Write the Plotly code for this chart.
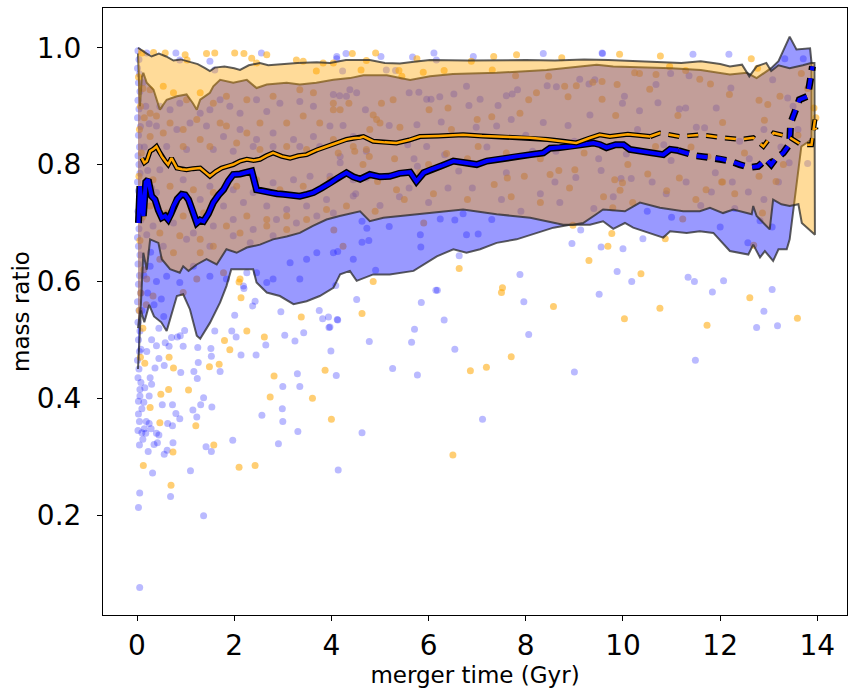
import plotly.graph_objects as go

# ---------------- scatter samples: (merger time [Gyr], mass ratio) ----------------
blue_x = [
    0.055, 0.03, 0.055, 0.69, 1.37, 0.32, 1.10, 1.97, 1.42, 1.53, 2.91, 3.31, 3.00, 4.63, 4.14,
    0.05, 0.12, 0.23, 0.35, 0.42, 0.56, 0.62, 0.74, 0.10, 0.18, 0.15, 0.29, 0.40, 0.45, 0.19, 0.25, 0.63, 0.73,
    2.01, 2.20, 2.38, 2.43, 1.95, 2.04, 2.14, 2.45, 2.65, 2.96, 3.04, 3.25, 3.43, 3.75, 3.82, 3.94, 4.13, 3.95,
    3.99, 4.10, 3.30, 3.00, 2.99, 3.35, 2.57,
    0.73, 0.80, 0.88, 0.52, 1.37, 1.31, 1.15, 1.23, 1.54, 0.90, 1.17, 1.24, 1.71, 1.26, 0.95, 1.25, 0.83, 0.98,
    0.71, 0.89, 0.58, 0.66, 0.45, 0.56, 0.37, 0.27, 0.16, 0.08, 0.06, 0.03, 0.10, 0.14, 0.25, 0.30, 1.52, 1.53,
    1.60, 0.08,
    7.88, 6.15, 6.18, 5.85, 6.32, 5.71, 5.65, 6.54, 5.26, 5.77, 7.96, 8.06, 9.00, 7.11, 9.88, 10.18, 9.51,
    11.34, 11.47, 11.84, 12.07, 11.49, 13.07, 12.90, 12.75, 13.18,
    9.55, 10.00, 10.41, 12.00, 12.57, 12.82, 13.07,
    4.63, 4.73, 4.77, 4.63, 4.13, 5.19, 5.83, 5.84, 6.24, 6.54, 6.71, 6.78, 7.02, 7.30, 4.91, 4.09, 4.52, 4.12,
    3.97, 4.78, 8.95, 9.13, 6.63,
    4.30, 4.11, 5.02, 5.67, 6.11, 6.16, 6.92, 8.36, 9.58, 4.23, 5.13, 5.32, 4.17, 4.38, 4.70, 5.60, 5.80, 5.96,
    6.05, 6.23, 6.52, 6.78, 7.06, 7.43, 7.60, 7.72, 6.83, 7.83, 8.44, 8.63, 9.11, 9.30, 9.42, 9.32, 8.87, 8.36,
    7.70, 7.40, 6.98, 4.24, 4.45, 5.19, 5.76, 6.26, 5.57, 5.96, 5.70, 5.77, 6.33, 6.62, 7.60, 8.14, 8.62, 9.03,
    9.50, 9.55, 4.45, 4.72, 5.60, 4.72,
    9.57, 11.44, 12.18, 13.33, 13.71, 10.03, 9.99, 10.68, 10.98, 11.36, 12.22, 13.08, 13.39, 10.72, 11.16,
    11.29, 11.92, 10.34, 11.51, 11.68, 10.84, 10.07, 10.99, 11.90, 12.25, 12.58, 13.42, 13.80, 10.17, 9.96,
    10.89, 11.82,
    4.5, 5.0, 5.4, 6.0, 6.9, 7.5, 7.9, 8.3, 8.7, 9.4, 9.8, 10.5, 11.0, 11.6, 12.3, 12.9, 13.2, 12.4, 12.9,
    13.25, 10.3, 8.0, 9.0, 7.2, 6.4, 8.6, 10.6, 11.3, 12.6, 13.5, 13.6,
    0.02, 0.04, 0.01, 0.05, 0.03, 0.06, 0.02, 0.04, 0.01, 0.07, 0.03, 0.05, 0.02, 0.04, 0.06, 0.01, 0.03, 0.05,
    0.02, 0.08, 0.04, 0.01, 0.03, 0.06, 0.02, 0.05, 0.03, 0.07, 0.01, 0.04, 0.02, 0.06, 0.03, 0.05, 0.01, 0.04,
    0.02, 0.06, 0.03, 0.05, 0.02,
    0.20, 0.80, 0.88, 1.50, 1.60, 2.56, 4.11,
    0.47, 0.68, 0.88, 1.30, 1.50, 1.71, 1.91, 2.12, 2.46, 2.67, 2.94, 3.35, 3.63, 4.04, 4.31, 4.52,
    0.40, 0.82, 1.09, 1.43, 1.78, 2.12, 2.46, 2.80, 3.22, 3.63, 3.97,
    0.61, 1.02, 1.57, 1.98, 2.39, 2.80, 3.35, 3.76, 4.18,
    0.47, 0.95, 1.50, 1.98, 2.39, 2.80, 3.22, 3.56, 3.97, 4.18,
    0.40, 0.82, 1.30, 1.78, 2.19, 2.67, 3.08, 3.49, 3.90, 4.45,
    0.33, 0.75, 1.16, 1.57, 1.98, 2.39, 2.87, 3.28, 3.70, 4.04,
    0.54, 1.02, 1.50, 1.98, 2.33, 2.80,
    0.27, 0.61, 0.88, 1.16, 1.50, 1.84, 2.26, 2.46, 2.80, 3.15, 3.49, 3.70, 4.04, 4.45, 2.19, 2.67, 3.35,
    0.12, 0.18, 0.25, 0.15, 0.22, 0.30, 0.12, 0.20, 0.28, 0.14, 0.22, 0.35, 0.10, 0.40, 0.50, 0.55, 0.45,
    0.30, 0.20, 0.40,
]
blue_y = [
    0.076, 0.213, 0.238, 0.232, 0.199, 0.272, 0.276, 0.328, 0.317, 0.309, 0.322, 0.343, 0.360, 0.341, 0.277,
    0.320, 0.330, 0.309, 0.321, 0.324, 0.304, 0.311, 0.324, 0.341, 0.340, 0.348, 0.348, 0.340, 0.337, 0.360,
    0.357, 0.357, 0.353,
    0.542, 0.588, 0.558, 0.566, 0.515, 0.505, 0.474, 0.474, 0.491, 0.548, 0.508, 0.498, 0.512, 0.550, 0.536,
    0.539, 0.534, 0.521, 0.481, 0.439, 0.442, 0.420, 0.382, 0.420, 0.371,
    0.389, 0.374, 0.365, 0.389, 0.401, 0.389, 0.380, 0.368, 0.385, 0.444, 0.446, 0.434, 0.446, 0.461, 0.489,
    0.487, 0.505, 0.516, 0.504, 0.507, 0.495, 0.489, 0.468, 0.456, 0.452, 0.435, 0.418, 0.427, 0.404, 0.373,
    0.382, 0.393, 0.404, 0.424, 0.485, 0.472, 0.515, 0.484,
    0.612, 0.585, 0.585, 0.564, 0.534, 0.518, 0.496, 0.484, 0.451, 0.440, 0.565, 0.509, 0.445, 0.364, 0.617,
    0.600, 0.578, 0.607, 0.600, 0.582, 0.601, 0.465, 0.586, 0.549, 0.521, 0.524,
    0.659, 0.656, 0.673, 0.693, 0.666, 0.704, 0.693,
    0.703, 0.691, 0.670, 0.667, 0.651, 0.694, 0.680, 0.659, 0.707, 0.705, 0.716, 0.680, 0.681, 0.706, 0.619,
    0.593, 0.569, 0.535, 0.522, 0.497, 0.665, 0.688, 0.644,
    0.990, 0.985, 0.985, 0.984, 0.991, 0.979, 0.985, 0.990, 0.990, 0.960, 0.962, 0.961, 0.918, 0.928, 0.894,
    0.923, 0.924, 0.912, 0.912, 0.916, 0.921, 0.934, 0.912, 0.901, 0.918, 0.921, 0.901, 0.928, 0.935, 0.933,
    0.946, 0.938, 0.945, 0.885, 0.867, 0.872, 0.877, 0.866, 0.864, 0.867, 0.848, 0.867, 0.868, 0.873, 0.834,
    0.831, 0.810, 0.797, 0.817, 0.789, 0.786, 0.823, 0.823, 0.778, 0.810, 0.790, 0.774, 0.777, 0.760, 0.823,
    0.991, 0.989, 0.989, 0.981, 0.981, 0.917, 0.905, 0.937, 0.956, 0.952, 0.931, 0.945, 0.914, 0.906, 0.895,
    0.897, 0.897, 0.892, 0.864, 0.863, 0.834, 0.818, 0.807, 0.786, 0.770, 0.753, 0.803, 0.802, 0.776, 0.776,
    0.750, 0.753,
    0.75, 0.73, 0.745, 0.735, 0.76, 0.74, 0.72, 0.75, 0.735, 0.725, 0.745, 0.72, 0.71, 0.73, 0.725, 0.74, 0.77,
    0.84, 0.86, 0.83, 0.86, 0.85, 0.84, 0.83, 0.76, 0.77, 0.77, 0.77, 0.81, 0.90, 0.86,
    0.995, 0.98, 0.965, 0.955, 0.94, 0.925, 0.91, 0.895, 0.88, 0.865, 0.85, 0.83, 0.815, 0.80, 0.785, 0.77,
    0.755, 0.74, 0.72, 0.705, 0.69, 0.675, 0.66, 0.645, 0.63, 0.61, 0.595, 0.58, 0.565, 0.55, 0.53, 0.515,
    0.50, 0.48, 0.465, 0.45, 0.435, 0.415, 0.395, 0.36, 0.345,
    0.991, 0.991, 0.979, 0.977, 0.962, 0.991, 0.981,
    0.900, 0.894, 0.905, 0.888, 0.894, 0.911, 0.900, 0.888, 0.911, 0.891, 0.905, 0.908, 0.900, 0.920, 0.917,
    0.923,
    0.866, 0.860, 0.871, 0.866, 0.848, 0.860, 0.843, 0.854, 0.843, 0.848, 0.866,
    0.831, 0.826, 0.826, 0.823, 0.831, 0.831, 0.831, 0.831, 0.814,
    0.791, 0.774, 0.763, 0.757, 0.752, 0.769, 0.774, 0.780, 0.780, 0.803,
    0.752, 0.740, 0.740, 0.729, 0.735, 0.729, 0.723, 0.729, 0.740, 0.746,
    0.695, 0.700, 0.683, 0.695, 0.706, 0.689, 0.706, 0.700, 0.712, 0.717,
    0.660, 0.672, 0.660, 0.678, 0.666, 0.678,
    0.626, 0.609, 0.598, 0.626, 0.609, 0.604, 0.615, 0.615, 0.604, 0.632, 0.638, 0.649, 0.649, 0.638, 0.592,
    0.598, 0.604,
    0.94, 0.90, 0.87, 0.83, 0.79, 0.76, 0.72, 0.68, 0.65, 0.61, 0.58, 0.56, 0.55, 0.60, 0.57, 0.54, 0.52,
    0.50, 0.48, 0.49,
]

orange_x = [
    6.63, 7.52, 7.50, 8.57, 9.30, 10.37, 10.03, 10.76, 11.73, 12.61, 13.59, 7.70, 6.86, 7.19, 6.50,
    0.47, 1.21, 1.58, 0.74, 0.13, 2.10, 2.43, 0.70, 4.00,
    2.10, 2.14, 2.26, 2.62, 1.80, 1.91, 1.49, 1.69, 2.82, 2.74, 3.38, 3.61, 3.87, 1.06, 0.65, 0.75, 0.66,
    0.49, 0.27,
    9.69, 9.77, 11.23, 10.87, 12.87, 12.69, 9.94, 9.79, 11.71, 12.05,
    4.86, 4.63, 4.24, 4.05, 8.97,
    4.43, 4.72, 4.91, 5.76, 6.88, 7.34, 7.81, 8.74,
    4.61, 5.39, 5.45, 5.89, 6.32, 7.31, 7.79, 8.47, 8.80, 9.04, 9.38, 8.87, 8.06, 8.22, 7.00, 7.30, 7.88,
    5.27, 5.03, 4.86, 4.93, 5.00, 4.79, 5.41, 6.01, 6.40, 6.47, 4.04, 4.36, 4.72, 4.65, 4.78, 4.48, 4.14,
    4.95, 5.34, 5.82, 6.37, 7.02, 7.35, 7.62, 7.97, 8.50, 8.68, 9.01,
    9.93, 10.77, 12.64, 10.24, 10.34, 11.29, 10.96, 10.68, 11.58, 11.80, 12.77, 13.67, 9.57, 9.88, 10.55,
    11.13, 12.80, 12.98, 12.19, 12.05, 12.91, 13.23, 13.97, 13.93, 9.85, 9.57, 10.58, 10.67, 11.75, 11.16,
    10.51, 9.83, 9.99, 12.03, 13.15,
    0.10, 0.34, 0.58, 0.99, 1.03, 1.43, 1.60, 2.01, 2.20, 2.36, 2.46, 2.67, 3.28, 3.42, 3.83, 4.04, 3.69,
    0.27, 0.54, 0.75, 1.02, 1.30, 1.57, 1.84, 2.26, 2.80, 3.35, 3.63, 4.04,
    0.27, 0.40, 0.68, 0.95, 1.23, 1.71, 1.84, 2.26, 2.53, 3.08, 3.42, 3.76, 4.18,
    0.27, 0.54, 0.95, 1.30, 1.50, 2.05, 2.53, 3.08, 3.49, 4.04, 4.45,
    0.33, 0.68, 1.16, 1.57, 2.05, 2.46, 2.94, 3.42, 3.97,
    0.27, 0.61, 0.95, 1.37, 1.84, 2.26, 2.67, 3.08, 3.49, 3.90, 4.31,
    0.47, 0.88, 1.30, 1.57, 2.12, 2.67, 3.08,
    0.47, 0.75, 1.30, 1.78, 2.12, 0.20, 0.33, 0.95, 1.23,
    0.03, 0.07, 0.12, 0.05, 0.15, 0.09, 0.04, 0.18, 0.11, 0.06, 0.14, 0.08, 0.05, 0.12, 0.19, 0.07, 0.16,
    5.5, 6.1, 6.8, 7.7, 8.3, 8.9, 9.6, 10.2, 10.9, 11.5, 12.3, 12.8, 13.3, 13.6, 13.8, 12.5, 11.4, 10.1,
    9.2, 8.3, 7.6, 6.8, 6.0, 5.3, 4.9, 5.9,
]
orange_y = [
    0.622, 0.589, 0.581, 0.557, 0.636, 0.613, 0.536, 0.554, 0.525, 0.572, 0.537, 0.471, 0.447, 0.453, 0.303,
    0.358, 0.353, 0.320, 0.308, 0.285, 0.282, 0.285, 0.251, 0.364,
    0.599, 0.572, 0.515, 0.505, 0.499, 0.483, 0.454, 0.458, 0.438, 0.402, 0.539, 0.400, 0.448, 0.414, 0.415,
    0.452, 0.470, 0.407, 0.384,
    0.660, 0.682, 0.707, 0.673, 0.717, 0.662, 0.756, 0.726, 0.757, 0.770,
    0.600, 0.545, 0.660, 0.688, 0.696,
    0.990, 0.978, 0.991, 0.981, 0.977, 0.985, 0.988, 0.983,
    0.962, 0.961, 0.951, 0.958, 0.961, 0.962, 0.952, 0.951, 0.934, 0.935, 0.941, 0.916, 0.911, 0.923, 0.877,
    0.882, 0.888, 0.911, 0.905, 0.885, 0.877, 0.871, 0.860, 0.864, 0.894, 0.897, 0.860, 0.894, 0.905, 0.826,
    0.800, 0.814, 0.823, 0.820, 0.771, 0.757, 0.786, 0.819, 0.831, 0.766, 0.777, 0.780, 0.783, 0.790, 0.791,
    0.989, 0.986, 0.981, 0.957, 0.956, 0.961, 0.968, 0.954, 0.946, 0.938, 0.965, 0.956, 0.942, 0.937, 0.929,
    0.884, 0.910, 0.903, 0.920, 0.872, 0.876, 0.917, 0.880, 0.897, 0.884, 0.912, 0.820, 0.831, 0.814, 0.777,
    0.784, 0.774, 0.769, 0.770, 0.771,
    0.991, 0.992, 0.991, 0.988, 0.979, 0.990, 0.991, 0.991, 0.990, 0.982, 0.974, 0.988, 0.979, 0.977, 0.974,
    0.974, 0.960,
    0.928, 0.934, 0.923, 0.911, 0.923, 0.905, 0.917, 0.911, 0.917, 0.928, 0.923, 0.905,
    0.888, 0.883, 0.871, 0.860, 0.877, 0.871, 0.866, 0.854, 0.871, 0.871, 0.883, 0.871, 0.894,
    0.848, 0.854, 0.831, 0.843, 0.831, 0.837, 0.826, 0.831, 0.826, 0.843, 0.831,
    0.774, 0.763, 0.757, 0.752, 0.763, 0.774, 0.757, 0.763, 0.774,
    0.729, 0.717, 0.712, 0.717, 0.695, 0.712, 0.706, 0.712, 0.706, 0.723, 0.729,
    0.683, 0.678, 0.672, 0.660, 0.683, 0.695, 0.689,
    0.638, 0.649, 0.649, 0.615, 0.604, 0.604, 0.575, 0.581, 0.604,
    0.95, 0.90, 0.93, 0.86, 0.88, 0.82, 0.78, 0.75, 0.71, 0.67, 0.62, 0.58, 0.55, 0.52, 0.56, 0.47, 0.46,
    0.74, 0.75, 0.74, 0.745, 0.735, 0.76, 0.745, 0.735, 0.755, 0.74, 0.75, 0.78, 0.80, 0.85, 0.93, 0.82,
    0.83, 0.80, 0.82, 0.81, 0.82, 0.81, 0.80, 0.81, 0.72, 0.70,
]

# ---------------- percentile envelopes ----------------
blue_hi_x = [0.02, 0.06, 0.10, 0.13, 0.20, 0.34, 0.47, 0.55, 0.61, 0.82, 1.02, 1.15, 1.23, 1.30, 1.50, 1.57,
             1.71, 1.98, 2.26, 2.46, 2.67, 3.08, 3.35, 3.69, 4.04, 4.38, 4.66, 5.14, 5.62, 6.03, 6.5, 7.4, 8.43,
             9.46, 9.8, 10.5, 11.0, 11.6, 12.2, 12.55, 12.75, 13.05, 13.2, 13.43, 13.57, 13.85, 13.88]
blue_hi = [0.990, 0.900, 0.950, 0.957, 0.940, 0.928, 0.894, 0.905, 0.911, 0.917, 0.920, 0.905, 0.894, 0.911,
           0.923, 0.934, 0.945, 0.940, 0.945, 0.931, 0.937, 0.940, 0.937, 0.940, 0.945, 0.948, 0.953, 0.953,
           0.945, 0.951, 0.955, 0.957, 0.962, 0.971, 0.968, 0.966, 0.965, 0.962, 0.954, 0.957, 0.948, 0.965,
           0.977, 1.019, 0.997, 0.999, 0.974]
blue_lo_x = [0.02, 0.08, 0.15, 0.25, 0.35, 0.50, 0.61, 0.82, 0.95, 1.09, 1.23, 1.30, 1.50, 1.71, 1.84, 1.94,
             2.18, 2.39, 2.46, 2.67, 2.94, 3.22, 3.49, 3.76, 4.04, 4.18, 4.38, 4.52, 4.86, 5.20, 5.69, 5.96,
             6.17, 6.51, 6.78, 7.06, 7.40, 7.81, 8.22, 8.57, 8.91, 9.32, 9.59, 9.8, 10.04, 10.21, 10.83, 10.97,
             11.31, 11.58, 11.86, 12.20, 12.58, 12.68, 12.82, 12.92, 13.09, 13.20, 13.37, 13.43, 13.67, 13.88]
blue_lo = [0.450, 0.550, 0.530, 0.560, 0.540, 0.530, 0.515, 0.575, 0.578, 0.552, 0.507, 0.502, 0.529, 0.564,
           0.592, 0.621, 0.621, 0.621, 0.598, 0.581, 0.575, 0.561, 0.566, 0.575, 0.589, 0.612, 0.618, 0.601,
           0.612, 0.612, 0.618, 0.632, 0.643, 0.655, 0.649, 0.655, 0.666, 0.672, 0.683, 0.692, 0.697, 0.697,
           0.703, 0.690, 0.700, 0.692, 0.675, 0.686, 0.683, 0.686, 0.683, 0.652, 0.646, 0.663, 0.641, 0.652,
           0.635, 0.655, 0.655, 0.672, 0.831, 0.843]

orange_hi_x = [0.02, 0.10, 0.20, 0.30, 0.45, 0.60, 0.75, 0.90, 1.02, 1.15, 1.25, 1.40, 1.50, 1.60, 1.80, 2.00,
               2.12, 2.30, 2.53, 2.70, 3.00, 3.30, 3.70, 3.97, 4.30, 4.79, 5.10, 5.41, 5.70, 6.03, 6.80, 7.40,
               8.00, 8.60, 9.20, 9.70, 10.20, 10.70, 11.20, 11.60, 12.00, 12.20, 12.45, 12.60, 12.75, 12.95,
               13.05, 13.20, 13.43, 13.70, 13.87, 13.94]
orange_hi = [1.000, 0.995, 0.990, 0.985, 0.990, 0.985, 0.978, 0.980, 0.977, 0.975, 0.972, 0.965, 0.960,
             0.966, 0.968, 0.965, 0.962, 0.970, 0.974, 0.970, 0.972, 0.974, 0.975, 0.974, 0.979, 0.979, 0.974,
             0.973, 0.976, 0.979, 0.978, 0.979, 0.979, 0.978, 0.980, 0.979, 0.977, 0.975, 0.974, 0.977, 0.972,
             0.968, 0.971, 0.951, 0.968, 0.974, 0.960, 0.970, 0.965, 0.970, 0.974, 0.974]
orange_lo_x = [0.02, 0.08, 0.13, 0.20, 0.27, 0.44, 0.51, 0.68, 0.88, 0.95, 1.06, 1.23, 1.43, 1.64, 1.84, 2.05,
               2.26, 2.53, 2.80, 3.08, 3.35, 3.62, 3.90, 4.17, 4.59, 4.79, 5.07, 5.34, 6.03, 6.71, 7.40, 8.09,
               8.77, 8.97, 9.18, 9.45, 9.59, 10.04, 10.35, 10.76, 11.24, 11.58, 11.79, 12.06, 12.27, 12.65,
               12.68, 12.75, 13.02, 13.09, 13.26, 13.43, 13.61, 13.68, 13.95]
orange_lo = [0.520, 0.560, 0.649, 0.620, 0.672, 0.666, 0.638, 0.621, 0.615, 0.626, 0.618, 0.629, 0.638,
             0.629, 0.655, 0.649, 0.658, 0.663, 0.672, 0.677, 0.683, 0.695, 0.706, 0.712, 0.720, 0.703, 0.709,
             0.712, 0.717, 0.723, 0.715, 0.709, 0.697, 0.697, 0.700, 0.715, 0.723, 0.720, 0.735, 0.726, 0.720,
             0.720, 0.726, 0.717, 0.723, 0.715, 0.729, 0.712, 0.689, 0.740, 0.732, 0.729, 0.732, 0.700, 0.680]

# ---------------- running medians (solid part + sparse-data dashed tail) ----------------
blue_med_x = [0.03, 0.06, 0.09, 0.13, 0.18, 0.23, 0.30, 0.37, 0.44, 0.51, 0.58, 0.64, 0.70, 0.75, 0.83, 0.92,
              0.99, 1.06, 1.14, 1.23, 1.30, 1.37, 1.47, 1.57, 1.68, 1.78, 1.88, 1.98, 2.12, 2.26, 2.36, 2.46,
              2.60, 2.74, 2.88, 3.01, 3.18, 3.35, 3.50, 3.63, 3.80, 3.97, 4.14, 4.31, 4.45, 4.59, 4.79, 5.00,
              5.20, 5.40, 5.62, 5.75, 5.90, 6.03, 6.27, 6.51, 6.75, 6.99, 7.20, 7.40, 7.60, 7.81, 8.10, 8.36,
              8.50, 8.70, 8.91, 9.15, 9.39, 9.53, 9.66, 9.85, 10.01, 10.14, 10.45, 10.83, 10.97, 11.14]
blue_med = [0.700, 0.763, 0.735, 0.712, 0.770, 0.774, 0.746, 0.740, 0.722, 0.709, 0.712, 0.706, 0.716, 0.729,
            0.741, 0.749, 0.748, 0.740, 0.722, 0.700, 0.705, 0.703, 0.716, 0.735, 0.748, 0.757, 0.772, 0.783,
            0.784, 0.786, 0.789, 0.757, 0.754, 0.752, 0.750, 0.749, 0.748, 0.746, 0.749, 0.752, 0.760, 0.768,
            0.778, 0.786, 0.779, 0.775, 0.783, 0.779, 0.780, 0.785, 0.787, 0.771, 0.786, 0.791, 0.798, 0.806,
            0.803, 0.800, 0.806, 0.809, 0.811, 0.814, 0.817, 0.820, 0.828, 0.829, 0.831, 0.834, 0.837, 0.834,
            0.829, 0.834, 0.834, 0.826, 0.822, 0.817, 0.826, 0.824]
blue_tail_x = [11.14, 11.30, 11.50, 11.80, 12.00, 12.20, 12.40, 12.60, 12.78, 12.95, 13.05, 13.13, 13.30,
               13.43, 13.45, 13.63, 13.80, 13.88, 13.90]
blue_tail = [0.824, 0.820, 0.815, 0.812, 0.810, 0.806, 0.800, 0.795, 0.797, 0.809, 0.800, 0.809, 0.820,
             0.835, 0.871, 0.911, 0.917, 0.957, 0.968]

orange_med_x = [0.10, 0.15, 0.20, 0.27, 0.33, 0.40, 0.46, 0.51, 0.58, 0.64, 0.71, 0.82, 0.92, 1.02, 1.15, 1.30,
                1.40, 1.50, 1.62, 1.74, 1.86, 1.98, 2.12, 2.26, 2.40, 2.53, 2.66, 2.80, 2.98, 3.15, 3.32, 3.49,
                3.70, 3.90, 4.10, 4.31, 4.45, 4.59, 4.66, 4.86, 5.10, 5.34, 5.60, 5.82, 6.20, 6.71, 7.10, 7.40,
                7.80, 8.09, 8.45, 8.77, 9.04, 9.30, 9.52, 9.73, 10.10, 10.56]
orange_med = [0.811, 0.803, 0.806, 0.823, 0.826, 0.831, 0.822, 0.814, 0.806, 0.800, 0.811, 0.794, 0.792,
              0.791, 0.793, 0.794, 0.787, 0.780, 0.788, 0.794, 0.797, 0.800, 0.806, 0.809, 0.807, 0.809, 0.815,
              0.820, 0.814, 0.811, 0.815, 0.817, 0.825, 0.831, 0.836, 0.843, 0.845, 0.846, 0.848, 0.840, 0.838,
              0.837, 0.842, 0.848, 0.849, 0.851, 0.849, 0.848, 0.847, 0.846, 0.843, 0.840, 0.837, 0.845, 0.851,
              0.848, 0.852, 0.848]
orange_tail_x = [10.56, 10.76, 11.17, 11.58, 12.06, 12.40, 12.68, 12.89, 13.10, 13.40, 13.67, 13.88, 13.95,
                 13.97]
orange_tail = [0.848, 0.854, 0.848, 0.851, 0.846, 0.843, 0.846, 0.831, 0.854, 0.848, 0.834, 0.834, 0.877,
               0.860]

BLUE = "#0000FF"
ORANGE = "#FFA500"
EDGE = "rgba(40,40,40,0.75)"
FONT = "DejaVu Sans"

fig = go.Figure()

# individual mergers
fig.add_trace(go.Scatter(x=blue_x, y=blue_y, mode="markers", hoverinfo="skip",
                         marker=dict(size=7, color="rgba(0,0,255,0.27)", line=dict(width=0))))
fig.add_trace(go.Scatter(x=orange_x, y=orange_y, mode="markers", hoverinfo="skip",
                         marker=dict(size=7, color="rgba(255,165,0,0.55)", line=dict(width=0))))


def band(xs_hi, hi, xs_lo, lo, fill):
    return go.Scatter(x=list(xs_hi) + list(reversed(xs_lo)),
                      y=list(hi) + list(reversed(lo)),
                      mode="lines", fill="toself", fillcolor=fill,
                      line=dict(color=EDGE, width=2), hoverinfo="skip")


fig.add_trace(band(blue_hi_x, blue_hi, blue_lo_x, blue_lo, "rgba(0,0,255,0.4)"))
fig.add_trace(band(orange_hi_x, orange_hi, orange_lo_x, orange_lo, "rgba(255,165,0,0.4)"))


def outlined(xs, ys, color, inner, outer, dash=None):
    d = dash if dash else "solid"
    fig.add_trace(go.Scatter(x=xs, y=ys, mode="lines", hoverinfo="skip",
                             line=dict(color="black", width=outer, dash=d)))
    fig.add_trace(go.Scatter(x=xs, y=ys, mode="lines", hoverinfo="skip",
                             line=dict(color=color, width=inner, dash=d)))


outlined(blue_med_x, blue_med, BLUE, 4, 7)
outlined(blue_tail_x, blue_tail, BLUE, 4, 7, "11px,8px")
outlined(orange_med_x, orange_med, ORANGE, 2.5, 5)
outlined(orange_tail_x, orange_tail, ORANGE, 2.5, 5, "11px,8px")

axis_common = dict(showline=True, linecolor="black", linewidth=1, mirror=True,
                   ticks="outside", ticklen=5, tickwidth=1, tickcolor="black",
                   showgrid=False, zeroline=False,
                   tickfont=dict(family=FONT, size=28, color="black"))

fig.update_layout(
    width=848, height=688,
    margin=dict(l=103, r=1, t=8, b=73),
    plot_bgcolor="white", paper_bgcolor="white",
    showlegend=False,
    xaxis=dict(range=[-0.70, 14.61], tickvals=[0, 2, 4, 6, 8, 10, 12, 14],
               title=dict(text="merger time (Gyr)", font=dict(family=FONT, size=23, color="black"),
                          standoff=2),
               **axis_common),
    yaxis=dict(range=[0.029, 1.068], tickvals=[0.2, 0.4, 0.6, 0.8, 1.0],
               ticktext=["0.2", "0.4", "0.6", "0.8", "1.0"],
               title=dict(text="mass ratio", font=dict(family=FONT, size=23, color="black"),
                          standoff=0),
               ticklabelstandoff=10,
               **axis_common),
)

fig.write_html("out.html")
